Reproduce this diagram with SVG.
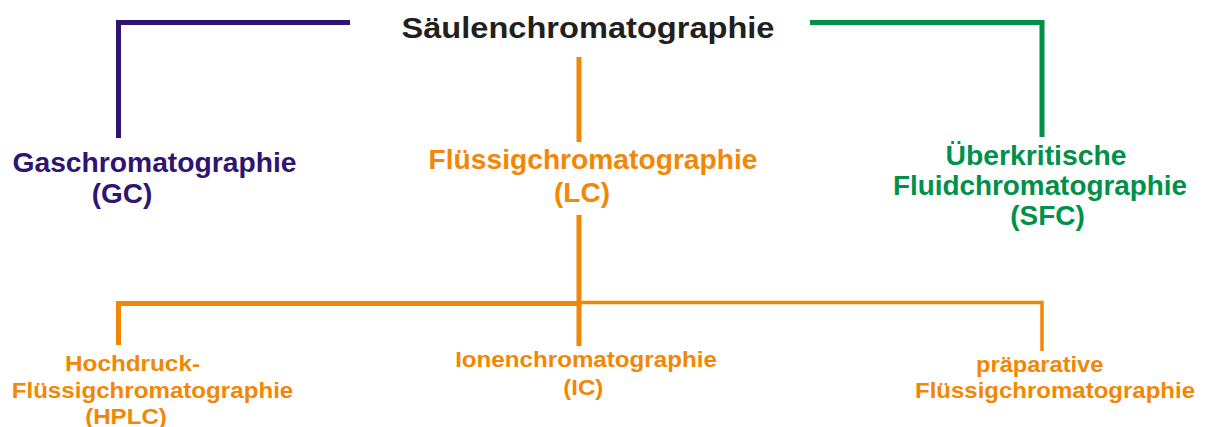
<svg xmlns="http://www.w3.org/2000/svg" width="1207" height="427" viewBox="0 0 1207 427">
<style>
text{font-family:"Liberation Sans",Arial,sans-serif;font-weight:bold;text-anchor:middle}
.t{font-size:30px;fill:#231f20}
.gc{font-size:28px;fill:#2f1472}
.lc{font-size:28px;fill:#f28705}
.sfc{font-size:28px;fill:#00904a}
.sub{font-size:22px;fill:#f28705}
.lp{fill:none;stroke:#2f1472;stroke-width:5}
.lg{fill:none;stroke:#00904a;stroke-width:5}
.lo{fill:none;stroke:#f28705;stroke-width:5}
</style>
<rect width="1207" height="427" fill="#fff"/>
<g id="connectors">
<path class="lp" d="M350,22.5 H118.5 V138"/>
<path class="lg" d="M810,22.5 H1042 V137"/>
<path class="lo" d="M579,57 V142"/>
<path class="lo" d="M579,215 V346"/>
<path class="lo" d="M579,303.5 H118.5 V345"/>
<path class="lo" style="stroke-width:3.5" d="M579,302.5 H1042 V351"/>
</g>
<g id="root"><text class="t" x="588" y="38" textLength="373" lengthAdjust="spacingAndGlyphs">Säulenchromatographie</text></g>
<g id="gc">
<text class="gc" x="154.5" y="171.5" textLength="284" lengthAdjust="spacingAndGlyphs">Gaschromatographie</text>
<text class="gc" x="122" y="203">(GC)</text>
</g>
<g id="lc">
<text class="lc" x="593" y="168.5" textLength="329" lengthAdjust="spacingAndGlyphs">Flüssigchromatographie</text>
<text class="lc" x="582" y="201.5">(LC)</text>
</g>
<g id="sfc">
<text class="sfc" x="1036" y="164.5" textLength="181" lengthAdjust="spacingAndGlyphs">Überkritische</text>
<text class="sfc" x="1040" y="195" textLength="294" lengthAdjust="spacingAndGlyphs">Fluidchromatographie</text>
<text class="sfc" x="1047.5" y="225">(SFC)</text>
</g>
<g id="hplc">
<text class="sub" x="132.5" y="371" textLength="135" lengthAdjust="spacingAndGlyphs">Hochdruck-</text>
<text class="sub" x="152.5" y="398.3" textLength="281.6" lengthAdjust="spacingAndGlyphs">Flüssigchromatographie</text>
<text class="sub" x="126" y="423.5" textLength="81.7" lengthAdjust="spacingAndGlyphs">(HPLC)</text>
</g>
<g id="ic">
<text class="sub" x="586" y="366.7" textLength="261.7" lengthAdjust="spacingAndGlyphs">Ionenchromatographie</text>
<text class="sub" x="583.3" y="395" textLength="40" lengthAdjust="spacingAndGlyphs">(IC)</text>
</g>
<g id="prep">
<text class="sub" x="1039.7" y="371.7" textLength="127.3" lengthAdjust="spacingAndGlyphs">präparative</text>
<text class="sub" x="1055" y="398.3" textLength="280" lengthAdjust="spacingAndGlyphs">Flüssigchromatographie</text>
</g>
</svg>
